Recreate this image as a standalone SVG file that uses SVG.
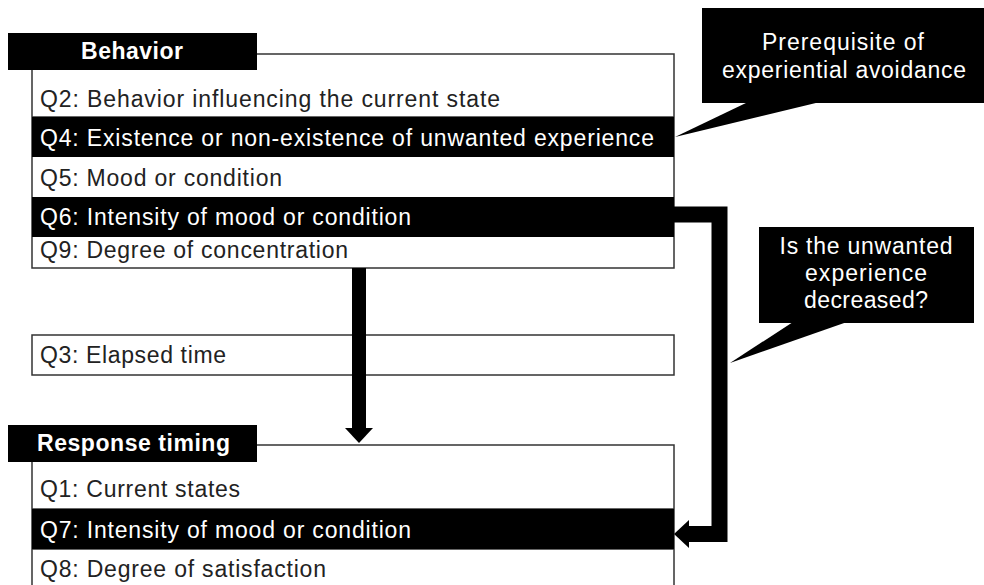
<svg xmlns="http://www.w3.org/2000/svg" width="984" height="585" viewBox="0 0 984 585">
<defs>
<style>
.row{font-family:"Liberation Sans","Noto Sans",sans-serif;font-size:23px;}
.w{fill:#fff;}
.k{fill:#222;}
.hdr{font-family:"Liberation Sans","Noto Sans",sans-serif;font-size:23px;font-weight:bold;fill:#fff;}
.cl{font-family:"Liberation Sans","Noto Sans",sans-serif;font-size:23px;fill:#fff;text-anchor:middle;}
.box{fill:#fff;stroke:#333;stroke-width:1.5;}
.blk{fill:#000;}
</style>
</defs>
<rect width="984" height="585" fill="#fff"/>

<g id="behavior">
<rect class="box" x="32" y="54" width="642" height="214"/>
<line x1="32" y1="117" x2="674" y2="117" stroke="#333" stroke-width="1.5"/>
<rect class="blk" x="32" y="117" width="642" height="40"/>
<rect class="blk" x="32" y="197" width="642" height="40"/>
<rect class="blk" x="8" y="33" width="249" height="37"/>
<text class="hdr" x="81" y="59" textLength="102">Behavior</text>
<text class="row k" x="40" y="107" textLength="460">Q2: Behavior influencing the current state</text>
<text class="row w" x="40" y="146" textLength="614">Q4: Existence or non-existence of unwanted experience</text>
<text class="row k" x="40" y="186" textLength="242">Q5: Mood or condition</text>
<text class="row w" x="40" y="225" textLength="371">Q6: Intensity of mood or condition</text>
<text class="row k" x="40" y="258" textLength="308">Q9: Degree of concentration</text>
</g>

<g id="elapsed">
<rect class="box" x="32" y="335" width="642" height="40"/>
<text class="row k" x="40" y="363" textLength="186">Q3: Elapsed time</text>
</g>

<g id="response">
<rect class="box" x="32" y="445" width="642" height="150"/>
<line x1="32" y1="509" x2="674" y2="509" stroke="#333" stroke-width="1.5"/>
<line x1="32" y1="549" x2="674" y2="549" stroke="#333" stroke-width="1.5"/>
<rect class="blk" x="32" y="509" width="642" height="40"/>
<rect class="blk" x="8" y="425" width="249" height="37"/>
<text class="hdr" x="37" y="451" textLength="193">Response timing</text>
<text class="row k" x="40" y="497" textLength="200">Q1: Current states</text>
<text class="row w" x="40" y="538" textLength="371">Q7: Intensity of mood or condition</text>
<text class="row k" x="40" y="577" textLength="286">Q8: Degree of satisfaction</text>
</g>

<g id="callout1">
<polygon class="blk" points="748,102 820,102 675,137"/>
<rect class="blk" x="702" y="8" width="290" height="95"/>
<text class="cl" x="843" y="50" textLength="162">Prerequisite of</text>
<text class="cl" x="844" y="78" textLength="244">experiential avoidance</text>
</g>

<g id="callout2">
<polygon class="blk" points="793,322 847,322 730,363"/>
<rect class="blk" x="759" y="227" width="215" height="96"/>
<text class="cl" x="866" y="254" textLength="173">Is the unwanted</text>
<text class="cl" x="866" y="281" textLength="122">experience</text>
<text class="cl" x="866" y="308" textLength="124">decreased?</text>
</g>

<g id="connectors">
<rect class="blk" x="352" y="268" width="14" height="162"/>
<polygon class="blk" points="345,428 373,428 359,443"/>
<path d="M674,214.5 H719.5 V534 H686" fill="none" stroke="#000" stroke-width="16"/>
<polygon class="blk" points="674,534 689,520 689,548"/>
</g>
</svg>
